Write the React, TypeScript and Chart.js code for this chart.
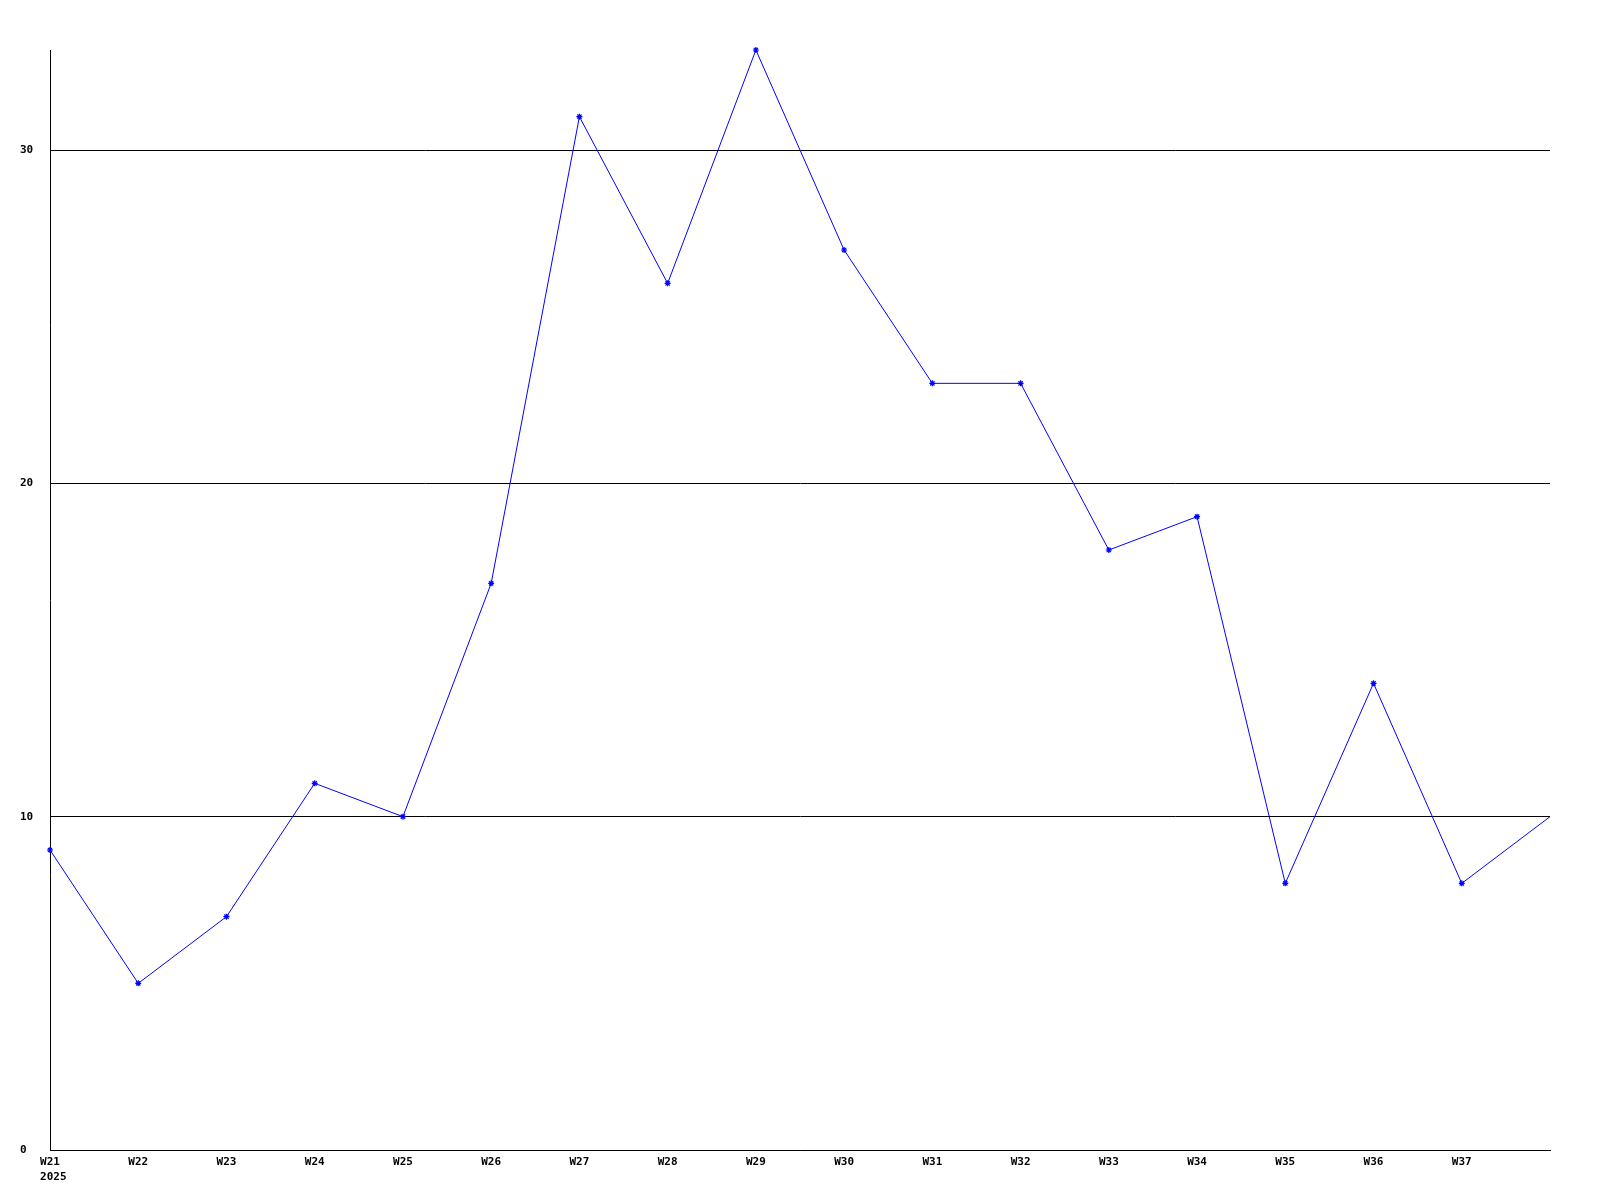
import React, { useEffect, useRef } from "react";
import { Chart, registerables } from "chart.js";

Chart.register(...registerables);

const weeks = ["W21", "W22", "W23", "W24", "W25", "W26", "W27", "W28", "W29", "W30", "W31", "W32", "W33", "W34", "W35", "W36", "W37", ""];
const values = [9, 5, 7, 11, 10, 17, 31, 26, 33, 27, 23, 23, 18, 19, 8, 14, 8, 10];
const yearLabel = "2025";
const yMin = 0;
const yMax = 33;
const yStep = 10;

const FONT = "DejaVu Sans Mono";

const yearPlugin = {
  id: "yearLabel",
  afterDraw(chart: any) {
    const ctx = chart.ctx;
    const xs = chart.scales.x;
    ctx.save();
    ctx.font = `bold 11px "${FONT}"`;
    ctx.fillStyle = "#000";
    ctx.textAlign = "left";
    ctx.textBaseline = "middle";
    const w = ctx.measureText(weeks[0]).width;
    const x0 = xs.getPixelForValue(0) - w / 2;
    ctx.fillText(yearLabel, x0, xs.bottom - 23);
    ctx.restore();
  },
};

export default function App() {
  const ref = useRef<HTMLCanvasElement>(null);
  useEffect(() => {
    const chart = new Chart(ref.current!, {
      type: "line",
      data: {
        labels: weeks,
        datasets: [
          {
            data: values,
            borderColor: "#0000ff",
            backgroundColor: "#0000ff",
            borderWidth: 1,
            tension: 0,
            clip: false,
            pointStyle: "star",
            pointRadius: (c: any) => (c.dataIndex === values.length - 1 ? 0 : 3),
            pointBorderWidth: 1.2,
            pointBorderColor: "#0000ff",
            fill: false,
          },
        ],
      },
      options: {
        animation: false,
        responsive: false,
        maintainAspectRatio: false,
        layout: { padding: { left: 20, top: 50, right: 50, bottom: 0 } },
        plugins: { legend: { display: false }, tooltip: { enabled: false } },
        scales: {
          x: {
            type: "category",
            offset: false,
            grid: { display: false, drawTicks: false },
            border: { display: true, color: "#000", width: 1 },
            ticks: {
              autoSkip: false,
              maxRotation: 0,
              minRotation: 0,
              color: "#000",
              padding: 6,
              font: { family: FONT, size: 11, weight: "bold" },
            },
            afterFit(scale: any) {
              scale.height = 50;
            },
          },
          y: {
            min: yMin,
            max: yMax,
            grid: { color: "#000", lineWidth: 1, drawTicks: false },
            border: { display: true, color: "#000", width: 1 },
            ticks: {
              stepSize: yStep,
              includeBounds: false,
              crossAlign: "far",
              color: "#000",
              font: { family: FONT, size: 11, weight: "bold" },
            },
            afterFit(scale: any) {
              scale.width = 30;
            },
          },
        },
      },
      plugins: [yearPlugin],
    } as any);
    return () => chart.destroy();
  }, []);
  return (
    <div style={{ position: "fixed", left: 0, top: 0, width: 1600, height: 1200, background: "#fff" }}>
      <canvas ref={ref} width={1600} height={1200} style={{ width: 1600, height: 1200 }} />
    </div>
  );
}
